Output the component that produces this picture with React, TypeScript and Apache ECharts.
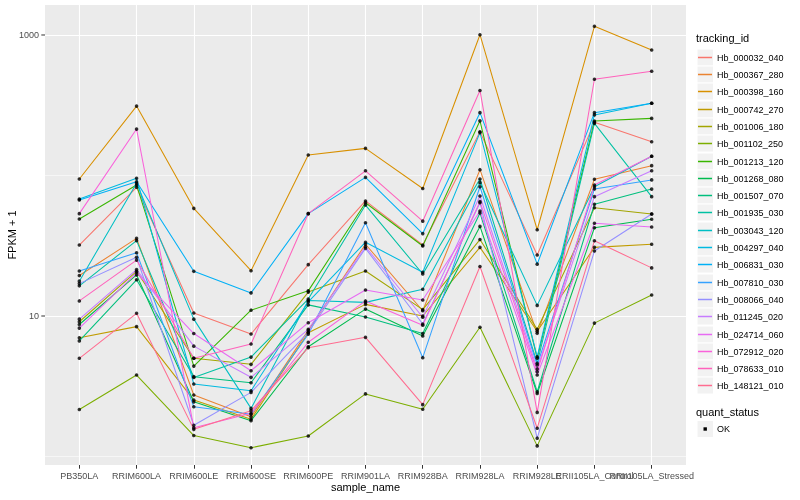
import React, { useEffect, useRef } from "react";
import * as echarts from "echarts";

const categories = [
  "PB350LA", "RRIM600LA", "RRIM600LE", "RRIM600SE", "RRIM600PE", "RRIM901LA",
  "RRIM928BA", "RRIM928LA", "RRIM928LE", "RRII105LA_Control", "RRII105LA_Stressed",
];

const trackingIds = [
  "Hb_000032_040", "Hb_000367_280", "Hb_000398_160", "Hb_000742_270", "Hb_001006_180",
  "Hb_001102_250", "Hb_001213_120", "Hb_001268_080", "Hb_001507_070", "Hb_001935_030",
  "Hb_003043_120", "Hb_004297_040", "Hb_006831_030", "Hb_007810_030", "Hb_008066_040",
  "Hb_011245_020", "Hb_024714_060", "Hb_072912_020", "Hb_078633_010", "Hb_148121_010",
];

const colors = [
  "#F8766D", "#EA8331", "#D89000", "#C09B00", "#A3A500", "#7CAE00", "#39B600", "#00BB4E",
  "#00BF7D", "#00C1A3", "#00BFC4", "#00BAE0", "#00B0F6", "#35A2FF", "#9590FF", "#C77CFF",
  "#E76BF3", "#FA62DB", "#FF62BC", "#FF6C90",
];

// FPKM + 1 per sample, in category order
const hb000032_040 = [32, 82.4, 10.5, 7.45, 23.2, 65.9, 32.0, 205, 27.2, 239, 174];
const hb000367_280 = [19.4, 35.7, 2.74, 1.92, 7.9, 32.4, 10.9, 110, 7.53, 94, 117.5];
const hb000398_160 = [94.4, 312, 58.4, 21.0, 140, 156, 80.8, 1005, 41.1, 1153, 782];
const hb000742_270 = [7.0, 8.4, 2.52, 1.84, 7.6, 12.1, 10.0, 30.8, 7.78, 30.8, 32.4];
const hb001006_180 = [9.1, 20.8, 5.0, 4.53, 14.8, 20.9, 11.1, 35.0, 8.04, 59, 53.2];
const hb001102_250 = [2.16, 3.8, 1.41, 1.155, 1.4, 2.79, 2.17, 8.32, 1.19, 8.9, 14.1];
const hb001213_120 = [49, 85.5, 4.4, 11.0, 15.1, 64.0, 31.5, 245, 5.0, 244, 255];
const hb001268_080 = [8.7, 19.6, 2.45, 1.8, 6.04, 11.2, 7.21, 43.4, 2.81, 42.5, 48.8];
const hb001507_070 = [6.65, 18.1, 3.7, 3.35, 12.0, 9.84, 7.5, 54.1, 2.89, 62.4, 80];
const hb001935_030 = [16.4, 34.4, 3.65, 5.1, 13.2, 61.6, 19.9, 94.4, 4.61, 235, 70.7];
const hb003043_120 = [17.7, 88, 9.5, 2.2, 12.9, 12.5, 15.5, 88.9, 11.9, 83.2, 137];
const hb004297_040 = [68, 95.5, 3.28, 2.94, 12.6, 33.5, 20.5, 202, 5.13, 270, 327];
const hb006831_030 = [66.9, 90.3, 20.8, 14.6, 53.5, 97, 38.6, 280, 23.4, 280, 327];
const hb007810_030 = [20.9, 28.2, 2.26, 2.0, 7.41, 46.1, 5.05, 83.2, 4.48, 80.1, 93];
const hb008066_040 = [17.0, 26.2, 1.67, 2.86, 7.66, 30.3, 8.77, 64.0, 1.35, 29, 53.2];
const hb011245_020 = [9.5, 21.4, 6.1, 3.66, 8.04, 31.1, 9.8, 71.5, 4.2, 70.7, 108];
const hb024714_060 = [8.2, 20.3, 7.5, 4.08, 8.96, 15.3, 13.0, 55.9, 3.8, 45.7, 43];
const hb072912_020 = [53.5, 214, 1.6, 2.03, 6.5, 12.8, 8.59, 65.2, 4.01, 85.5, 137];
const hb078633_010 = [12.8, 25.0, 5.0, 6.32, 53.5, 108, 47.3, 403, 2.06, 484, 552];
const hb148121_010 = [5.0, 10.45, 1.56, 2.12, 5.95, 7.05, 2.34, 22.5, 1.59, 34.3, 22];

const seriesValues = [
  hb000032_040, hb000367_280, hb000398_160, hb000742_270, hb001006_180,
  hb001102_250, hb001213_120, hb001268_080, hb001507_070, hb001935_030,
  hb003043_120, hb004297_040, hb006831_030, hb007810_030, hb008066_040,
  hb011245_020, hb024714_060, hb072912_020, hb078633_010, hb148121_010,
];

const yTickLabels = [10, 1000];
const yMinorBreaks = [1, 100];
const quantStatus = ["OK"];

const FONT = "'Liberation Sans', Arial, Helvetica, sans-serif";

export default function App() {
  const ref = useRef<HTMLDivElement>(null);

  useEffect(() => {
    const chart = echarts.init(ref.current as HTMLDivElement, null, { renderer: "svg" });
    const catIdx = categories.map((_, i) => i);
    const n = categories.length;

    const lineSeries = seriesValues.map((vals, i) => ({
      type: "line",
      name: trackingIds[i],
      data: vals.map((v, j) => [j, v]),
      showSymbol: false,
      symbol: "none",
      lineStyle: { color: colors[i], width: 1.05 },
      itemStyle: { color: colors[i] },
      z: 2,
      silent: true,
    }));

    const points: number[][] = [];
    seriesValues.forEach((vals) => vals.forEach((v, j) => points.push([j, v])));

    const legendEls: any[] = [];
    legendEls.push({
      type: "text",
      x: 696,
      y: 38,
      style: { text: "tracking_id", fill: "#000", fontSize: 11, fontFamily: FONT, verticalAlign: "middle" },
    });
    trackingIds.forEach((id, i) => {
      const cy = Math.round(56.7 + 17.3 * i) + 0.5;
      legendEls.push({
        type: "rect",
        shape: { x: 697, y: cy - 8.5, width: 16.5, height: 17 },
        style: { fill: "#F2F2F2", stroke: "#FFFFFF", lineWidth: 1 },
      });
      legendEls.push({
        type: "line",
        shape: { x1: 698, y1: cy, x2: 712, y2: cy },
        style: { stroke: colors[i], lineWidth: 1.5 },
      });
      legendEls.push({
        type: "text",
        x: 717,
        y: cy,
        style: { text: id, fill: "#000", fontSize: 9, fontFamily: FONT, verticalAlign: "middle" },
      });
    });
    legendEls.push({
      type: "text",
      x: 696,
      y: 412,
      style: { text: "quant_status", fill: "#000", fontSize: 11, fontFamily: FONT, verticalAlign: "middle" },
    });
    quantStatus.forEach((q, i) => {
      const cy = 429 + 17.3 * i;
      legendEls.push({
        type: "rect",
        shape: { x: 697, y: cy - 8.5, width: 16.5, height: 17 },
        style: { fill: "#F2F2F2", stroke: "#FFFFFF", lineWidth: 1 },
      });
      legendEls.push({
        type: "rect",
        shape: { x: 703.5, y: cy - 1.7, width: 3.4, height: 3.4 },
        style: { fill: "#000" },
      });
      legendEls.push({
        type: "text",
        x: 717,
        y: cy,
        style: { text: q, fill: "#000", fontSize: 9, fontFamily: FONT, verticalAlign: "middle" },
      });
    });

    const labelStyle = {
      formatter: (v: number) => categories[Math.round(v)] ?? "",
      color: "#4D4D4D",
      fontSize: 9,
      margin: 6,
      fontFamily: FONT,
      hideOverlap: false,
      showMinLabel: true,
      showMaxLabel: true,
    };

    // extra label-only x axes so the overlapping long labels are all kept
    const labelOnlyAxis = (vals: number[]) => ({
      type: "value",
      gridIndex: 0,
      position: "bottom",
      offset: 0,
      min: -0.6,
      max: n - 0.4,
      axisLine: { show: false },
      axisTick: { show: false, customValues: vals },
      splitLine: { show: false },
      axisLabel: { ...labelStyle, customValues: vals },
    });

    const option: any = {
      animation: false,
      textStyle: { fontFamily: FONT },
      grid: {
        left: 45,
        right: 114,
        top: 5,
        bottom: 35,
        show: true,
        backgroundColor: "#EBEBEB",
        borderWidth: 0,
        containLabel: false,
        outerBoundsMode: "none",
      },
      xAxis: [
        {
          type: "value",
          position: "bottom",
          min: -0.6,
          max: n - 0.4,
          name: "sample_name",
          nameLocation: "middle",
          nameGap: 16,
          nameMoveOverlap: false,
          nameTextStyle: { color: "#000", fontSize: 11, fontFamily: FONT },
          axisLine: { show: false },
          axisTick: { show: true, customValues: catIdx, length: 3.7, lineStyle: { color: "#333", width: 1 } },
          axisLabel: { ...labelStyle, customValues: catIdx.slice(0, n - 2) },
          splitLine: { show: true, lineStyle: { color: "#FFFFFF", width: 1.1 } },
        },
        labelOnlyAxis([n - 2]),
        labelOnlyAxis([n - 1]),
      ],
      yAxis: {
        type: "log",
        logBase: 10,
        min: 0.87,
        max: 1635,
        name: "FPKM + 1",
        nameLocation: "middle",
        nameGap: 28,
        nameRotate: 90,
        nameTextStyle: { color: "#000", fontSize: 11, fontFamily: FONT },
        axisLine: { show: false },
        axisTick: { show: false, customValues: yTickLabels },
        axisLabel: { show: false, customValues: yTickLabels },
        splitLine: { show: true, lineStyle: { color: "#FFFFFF", width: 1.1 } },
      },
      graphic: { elements: legendEls },
      series: [
        {
          type: "line",
          data: [],
          z: 1,
          silent: true,
          markLine: {
            silent: true,
            symbol: "none",
            z: 1,
            label: { show: false },
            lineStyle: { color: "#FFFFFF", width: 0.55, type: "solid" },
            data: yMinorBreaks.map((v) => ({ yAxis: v })),
          },
        },
        ...lineSeries,
        {
          type: "scatter",
          data: points,
          symbol: "circle",
          symbolSize: 3.6,
          itemStyle: { color: "#000000" },
          z: 3,
          silent: true,
        },
      ],
    };

    chart.setOption(option);

    // y-axis tick marks and labels at the labelled breaks, placed through the axis scale
    const yEls: any[] = [];
    yTickLabels.forEach((v) => {
      const py = chart.convertToPixel({ yAxisIndex: 0 }, v) as number;
      yEls.push({
        type: "line",
        shape: { x1: 41.3, y1: py, x2: 45, y2: py },
        style: { stroke: "#333333", lineWidth: 1 },
      });
      yEls.push({
        type: "text",
        x: 39,
        y: py,
        style: {
          text: String(v),
          fill: "#4D4D4D",
          fontSize: 9,
          fontFamily: FONT,
          align: "right",
          verticalAlign: "middle",
        },
      });
    });
    chart.setOption({ graphic: { elements: [...legendEls, ...yEls] } });

    return () => chart.dispose();
  }, []);

  return (
    <div
      ref={ref}
      style={{ position: "fixed", left: 0, top: 0, width: 800, height: 500 }}
    />
  );
}
